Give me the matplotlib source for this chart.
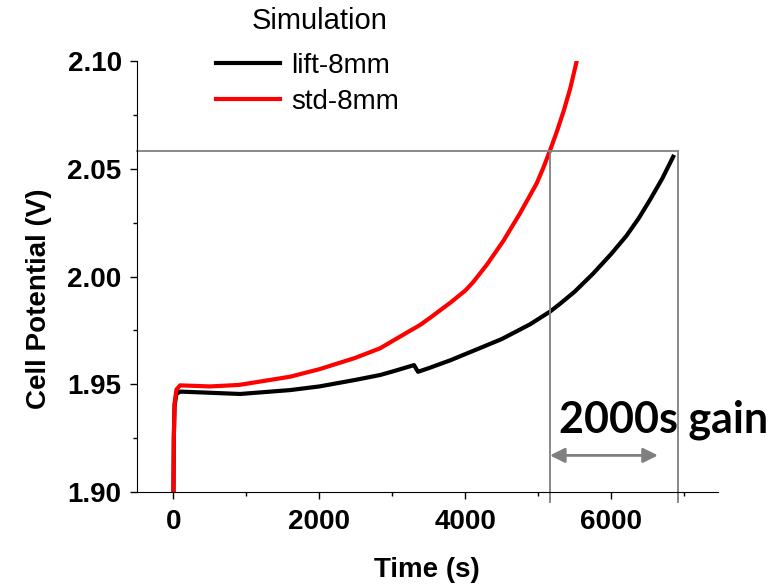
import matplotlib.pyplot as plt
from matplotlib.ticker import MultipleLocator

plt.rcParams['font.family'] = ['Liberation Sans', 'DejaVu Sans']

# data
t_lift = [0, 5, 15, 40, 90, 400, 914, 1597, 2000, 2488, 2832, 3010, 3297, 3352,
          3500, 3800, 4000, 4201, 4500, 4886, 5160, 5300, 5500, 5753, 6000, 6211,
          6380, 6530, 6700, 6849]
v_lift = [1.900, 1.925, 1.940, 1.9455, 1.9466, 1.9462, 1.9455, 1.9473, 1.9490, 1.9520,
          1.9543, 1.9560, 1.9589, 1.9558, 1.9575, 1.9612, 1.9640, 1.9668, 1.9710, 1.9778,
          1.9837, 1.9874, 1.9930, 2.0014, 2.0105, 2.0190, 2.0272, 2.0355, 2.0455, 2.0556]

t_std = [0, 5, 15, 40, 90, 500, 900, 1597, 2000, 2488, 2832, 3200, 3379, 3516, 3800,
         4000, 4110, 4300, 4521, 4749, 4978, 5070, 5160, 5250, 5350, 5440, 5527, 5560]
v_std = [1.900, 1.926, 1.941, 1.9475, 1.9495, 1.9490, 1.9497, 1.9535, 1.9570, 1.9622,
         1.9667, 1.9740, 1.9775, 1.9808, 1.9880, 1.9935, 1.9975, 2.0057, 2.0165, 2.0293,
         2.0432, 2.0505, 2.0584, 2.0668, 2.0770, 2.0875, 2.1000, 2.1050]

t_cross_std = 5160
t_cross_lift = 6910
v_cut = 2.0584
arrow_end = 6640
arrow_v = 1.917

fig = plt.figure(figsize=(7.81, 5.87), dpi=100)
ax = fig.add_axes([0.1754, 0.1618, 0.7436, 0.7342])

ax.plot(t_lift, v_lift, color='black', lw=3, label='lift-8mm')
ax.plot(t_std, v_std, color='#ff0000', lw=3, label='std-8mm')

ax.set_xlim(-500, 7460)
ax.set_ylim(1.90, 2.10)

# guide lines
gray = '#808080'
ax.plot([-500, t_cross_lift], [v_cut, v_cut], color=gray, lw=1.3, clip_on=False)
ax.plot([t_cross_std, t_cross_std], [1.8954, v_cut], color=gray, lw=1.3, clip_on=False)
ax.plot([t_cross_lift, t_cross_lift], [1.8954, v_cut], color=gray, lw=1.3, clip_on=False)
ax.annotate('', xy=(t_cross_std, arrow_v), xytext=(arrow_end, arrow_v),
            arrowprops=dict(arrowstyle='<|-|>', color=gray, lw=2, mutation_scale=22,
                            shrinkA=0, shrinkB=0))
ax.text(5284, 1.9278, '2000s gain', fontsize=31, fontweight='bold', family='Lato',
        ha='left', va='baseline', clip_on=False)

for s in ['top', 'right']:
    ax.spines[s].set_visible(False)
ax.xaxis.set_major_locator(MultipleLocator(2000))
ax.xaxis.set_minor_locator(MultipleLocator(1000))
ax.yaxis.set_major_locator(MultipleLocator(0.05))
ax.yaxis.set_minor_locator(MultipleLocator(0.025))
ax.tick_params(which='major', direction='out', length=5, width=1, labelsize=20, pad=6)
ax.tick_params(which='minor', direction='out', length=3, width=1)
ax.tick_params(axis='x', which='major', pad=7)
ax.set_yticks([1.90, 1.95, 2.00, 2.05, 2.10])
ax.set_yticklabels(['1.90', '1.95', '2.00', '2.05', '2.10'])
for lab in ax.get_xticklabels() + ax.get_yticklabels():
    lab.set_fontweight('bold')

ax.set_xlabel('Time (s)', fontsize=20, fontweight='bold')
ax.set_ylabel('Cell Potential (V)', fontsize=20, fontweight='bold')
ax.xaxis.set_label_coords(0.5, -0.151)
ax.yaxis.set_label_coords(-0.146, 0.448)

fig.text(320 / 781, 1 - 21 / 587, 'Simulation', fontsize=21, ha='center', va='center')
leg = fig.legend(loc='upper left', bbox_to_anchor=(0.255, 0.938), frameon=False,
                 fontsize=20, handlelength=2.3, handletextpad=0.4, borderpad=0.1,
                 labelspacing=0.35)

fig.savefig('out.png', dpi=100)
